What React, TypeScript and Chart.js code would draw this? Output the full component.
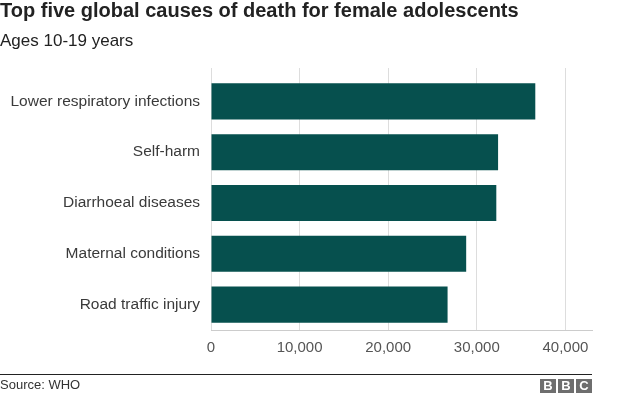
import React, { useEffect, useRef } from "react";
import { Chart, registerables } from "chart.js";

Chart.register(...registerables);

const categories = [
  "Lower respiratory infections",
  "Self-harm",
  "Diarrhoeal diseases",
  "Maternal conditions",
  "Road traffic injury",
];
const deaths = [36600, 32400, 32200, 28800, 26700];
const xTicks = [0, 10000, 20000, 30000, 40000];

const FONT = "'Liberation Sans', Arial, Helvetica, sans-serif";

const gridExtend = {
  id: "gridExtend",
  beforeDatasetsDraw(chart: any) {
    const { ctx, chartArea, scales } = chart;
    const x = scales.x;
    ctx.save();
    ctx.strokeStyle = "#dddddd";
    ctx.lineWidth = 1;
    x.ticks.forEach((t: any, i: number) => {
      const raw = x.getPixelForTick(i);
      const px = Math.round(raw - 0.5) + 0.5;
      ctx.beginPath();
      ctx.moveTo(px, 68);
      ctx.lineTo(px, chartArea.top);
      ctx.stroke();
    });
    ctx.restore();
  },
};

export default function App() {
  const ref = useRef<HTMLCanvasElement>(null);
  useEffect(() => {
    document.body.style.margin = "0";
    const chart = new Chart(ref.current!, {
      type: "bar",
      data: {
        labels: categories,
        datasets: [
          {
            data: deaths,
            backgroundColor: "#06504e",
            barPercentage: 0.71,
            categoryPercentage: 1,
          },
        ],
      },
      options: {
        indexAxis: "y",
        responsive: false,
        maintainAspectRatio: false,
        animation: false,
        layout: { padding: { top: 76, right: 32, bottom: 0, left: 0 } },
        plugins: { legend: { display: false }, tooltip: { enabled: false } },
        scales: {
          x: {
            type: "linear",
            position: "bottom",
            min: 0,
            max: 43000,
            afterBuildTicks: (s: any) => {
              s.ticks = xTicks.map((v) => ({ value: v }));
            },
            afterFit: (s: any) => {
              s.height = 68;
            },
            ticks: {
              color: "#555555",
              font: { family: FONT, size: 15 },
              padding: 9,
              maxRotation: 0,
              callback: (v: any) => Number(v).toLocaleString("en-US"),
            },
            grid: { color: "#dddddd", drawTicks: false },
            border: { display: true, color: "#cccccc" },
          },
          y: {
            type: "category",
            afterFit: (s: any) => {
              s.width = 211;
            },
            grid: { display: false, drawTicks: false },
            border: { display: false },
            ticks: {
              color: "#3a3a3a",
              font: { family: FONT, size: 15.5 },
              padding: 11,
            },
          },
        },
      },
      plugins: [gridExtend],
    } as any);
    return () => chart.destroy();
  }, []);

  const box = (left: number, letter: string) => (
    <div
      style={{
        position: "absolute",
        left,
        top: 379,
        width: 16,
        height: 14,
        background: "#6e6e6e",
        color: "#fff",
        fontFamily: FONT,
        fontWeight: "bold",
        fontSize: 13,
        lineHeight: "14px",
        textAlign: "center",
      }}
    >
      {letter}
    </div>
  );

  return (
    <div style={{ position: "relative", width: 624, height: 398, background: "#fff", overflow: "hidden" }}>
      <canvas ref={ref} width={624} height={398} style={{ position: "absolute", left: 0, top: 0 }} />
      <div
        style={{
          position: "absolute",
          left: 0,
          top: 0,
          fontFamily: FONT,
          fontWeight: "bold",
          fontSize: 20,
          lineHeight: "20px",
          color: "#222",
          whiteSpace: "nowrap",
        }}
      >
        Top five global causes of death for female adolescents
      </div>
      <div
        style={{
          position: "absolute",
          left: 0,
          top: 32,
          fontFamily: FONT,
          fontSize: 17,
          lineHeight: "17px",
          color: "#222",
          whiteSpace: "nowrap",
        }}
      >
        Ages 10-19 years
      </div>
      <div style={{ position: "absolute", left: 0, top: 374, width: 592, height: 1, background: "#222" }} />
      <div
        style={{
          position: "absolute",
          left: 0,
          top: 378,
          fontFamily: FONT,
          fontSize: 13,
          lineHeight: "13px",
          color: "#333",
          whiteSpace: "nowrap",
        }}
      >
        Source: WHO
      </div>
      {box(540, "B")}
      {box(558, "B")}
      {box(576, "C")}
    </div>
  );
}
